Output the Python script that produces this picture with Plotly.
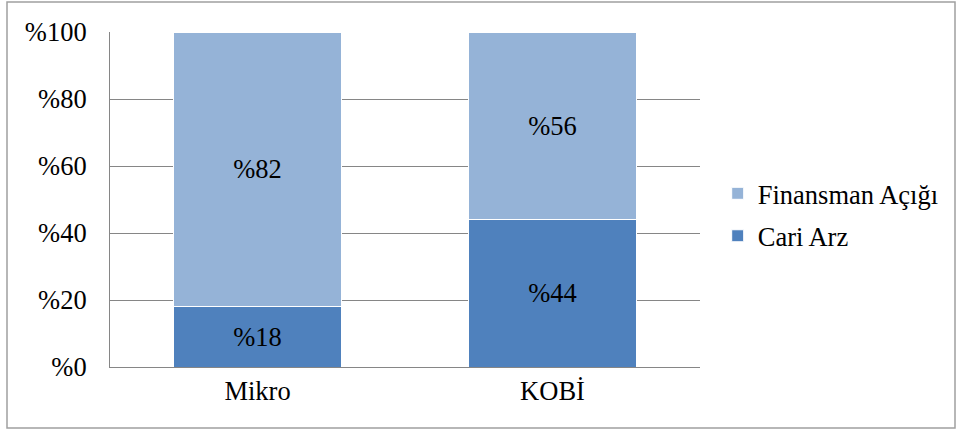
import plotly.graph_objects as go

categories = ["Mikro", "KOBİ"]
cari_arz = [18, 44]
finansman_acigi = [82, 56]
tick_vals = [0, 20, 40, 60, 80, 100]
tick_text = ["%0", "%20", "%40", "%60", "%80", "%100"]

FONT = "Liberation Serif"
FS = 26.5

fig = go.Figure()
fig.add_trace(go.Bar(
    x=categories, y=cari_arz, name="Cari Arz",
    marker=dict(color="#4F81BD", line=dict(color="white", width=1)),
    text=["%" + str(v) for v in cari_arz], textposition="inside",
    insidetextanchor="middle", textfont=dict(color="black", size=FS, family=FONT),
    legendgroup="a", legendrank=2, width=0.57,
))
fig.add_trace(go.Bar(
    x=categories, y=finansman_acigi, name="Finansman Açığı",
    marker=dict(color="#95B3D7", line=dict(color="white", width=1)),
    text=["%" + str(v) for v in finansman_acigi], textposition="inside",
    insidetextanchor="middle", textfont=dict(color="black", size=FS, family=FONT),
    legendgroup="b", legendrank=1, width=0.57,
))

fig.update_layout(
    barmode="stack",
    width=958, height=430,
    margin=dict(l=110, r=258, t=32, b=63),
    paper_bgcolor="white", plot_bgcolor="white",
    font=dict(family=FONT, size=FS, color="black"),
    showlegend=True,
    legend=dict(
        traceorder="grouped", tracegroupgap=5,
        x=1.03, xanchor="left", y=0.455, yanchor="middle",
        font=dict(size=FS, family=FONT, color="black"),
        bgcolor="rgba(0,0,0,0)", itemwidth=30,
    ),
    xaxis=dict(
        showline=True, linecolor="#868686", linewidth=1,
        showgrid=False, ticks="", tickfont=dict(size=FS, family=FONT),
        range=[-0.5, 1.5],
    ),
    yaxis=dict(
        range=[0, 100], tickvals=tick_vals, ticktext=tick_text,
        showgrid=True, gridcolor="#868686", gridwidth=1,
        showline=True, linecolor="#868686", linewidth=1,
        ticks="", tickfont=dict(size=FS, family=FONT), zeroline=False,
        ticklabelstandoff=17,
    ),
    shapes=[dict(
        type="rect", xref="paper", yref="paper",
        x0=(7 - 110) / 590, x1=(955 - 110) / 590,
        y0=(367 - 428) / 335, y1=(367 - 2) / 335,
        line=dict(color="#A0A0A0", width=1.5), fillcolor="rgba(0,0,0,0)",
        layer="below",
    )],
)

fig.write_html("out.html")
